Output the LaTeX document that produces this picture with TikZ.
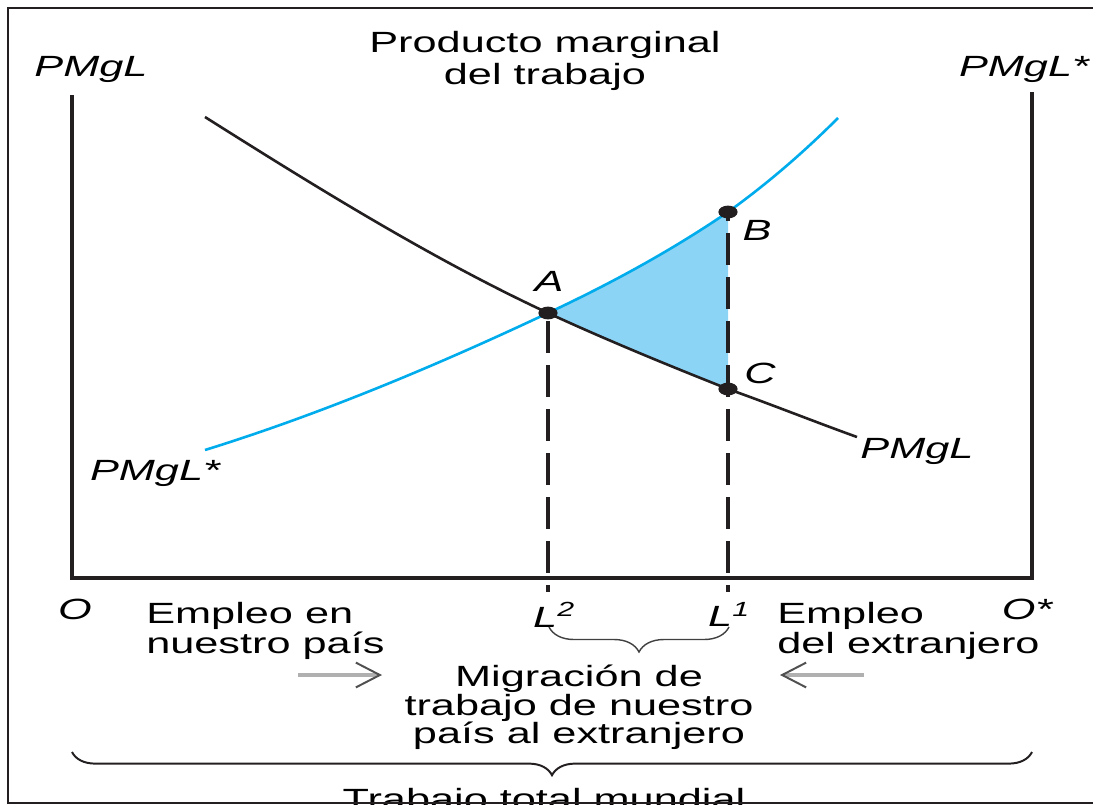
\documentclass[tikz,border=0pt]{standalone}
\usepackage{fontspec}
\setmainfont{Liberation Sans}[FakeStretch=1.48]
\usetikzlibrary{arrows.meta, decorations.pathreplacing, positioning}

\definecolor{tinta}{RGB}{35,31,32}
\definecolor{cian}{RGB}{0,172,236}
\definecolor{celeste}{RGB}{140,212,246}
\definecolor{grisclaro}{RGB}{176,176,176}
\definecolor{grisosc}{RGB}{80,80,80}

\tikzset{
  txt/.style={inner sep=0pt, font=\fontsize{20.8}{21}\selectfont},
  itl/.style={inner sep=0pt, font=\fontsize{20.8}{21}\selectfont\itshape},
  eje/.style={draw=tinta, line width=0.11cm},
  curva/.style={line width=0.065cm},
  guia/.style={draw=tinta, line width=0.115cm, dash pattern=on 0.8cm off 0.3cm},
  llave/.style={decorate, decoration={brace, mirror, amplitude=#1}},
  flecha/.style={draw=grisclaro, line width=0.11cm,
    -{Straight Barb[length=0.6cm, width=0.62cm, line width=1.4pt, color=grisosc]}}
}

\begin{document}
\begin{tikzpicture}[x=0.025cm, y=-0.025cm]
\useasboundingbox (0,0) rectangle (1093,804);
\clip (0,0) rectangle (1093,804);

% marco
\draw[tinta, line width=0.05cm] (8,804) -- (8,8) -- (1093,8);

% puntos de la figura
\coordinate (A) at (548,313);
\coordinate (B) at (728,212);
\coordinate (C) at (728,389);
\coordinate (L2b) at (548,592);
\coordinate (L1b) at (728,592);

% area de ganancia
\fill[celeste] (A) .. controls (608,284.8) and (668,252.8) .. (B) -- (C)
  .. controls (668,365.2) and (608,340.6) .. (A) -- cycle;

% ejes
\draw[eje] (72,95) -- (72,578);
\draw[eje] (1032,92) -- (1032,578);
\draw[tinta, line width=0.08cm] (70,578) -- (1034,578);

% curvas
\draw[curva, tinta] (205,117) .. controls (319,189) and (434,260) .. (A)
  .. controls (608,340.6) and (668,365.2) .. (C)
  .. controls (771,404.3) and (814,421.5) .. (857,437);
\draw[curva, cian] (205,450) .. controls (319,414.6) and (434,366.7) .. (A)
  .. controls (608,284.8) and (668,252.8) .. (B)
  .. controls (764.7,185.6) and (801.3,154.7) .. (838,118);

% lineas discontinuas
\draw[guia, dash phase=0.9cm] (A) -- (L2b);
\draw[guia, dash phase=0.575cm] (B) -- (L1b);

\foreach \p in {A,B,C}
  \fill[tinta] (\p) ellipse [x radius=0.24cm, y radius=0.16cm];

% textos
\node[txt, anchor=north, align=center, font=\fontsize{20.8}{22.5}\selectfont] (titulo) at (545,31) {Producto marginal\\del trabajo};
\node[itl, anchor=north] (pmglH) at (91,56) {PMgL};
\node[itl, anchor=north] (pmglF) at (1024,56) {PMgL*};
\node[itl, anchor=north] (pmglFb) at (155,460) {PMgL*};
\node[itl, anchor=north] (pmglHb) at (917,438) {PMgL};
\node[itl, anchor=north] (labA) at (549,271) {A};
\node[itl, anchor=north] (labB) at (757,220) {B};
\node[itl, anchor=north] (labC) at (760,363) {C};

\node[itl, anchor=north] (origen) at (75,599) {O};
\node[itl, anchor=north] (labL2) at (554,602) {L\textsuperscript{2}};
\node[itl, anchor=north] (labL1) at (729,602) {L\textsuperscript{1}};
\node[itl, anchor=north] (origenF) at (1027,599) {O*};
\node[txt, anchor=north west, align=left] (empH) at (146,602) {Empleo en\\nuestro país};
\node[txt, anchor=north west, align=left] (empF) at (777,602) {Empleo\\del extranjero};
\node[txt, anchor=north, align=center, font=\fontsize{20.8}{20.3}\selectfont] (migr) at (579,665) {Migración de\\trabajo de nuestro\\país al extranjero};
\node[txt, anchor=north] (total) at (544,788) {Trabajo total mundial};

% flechas
\coordinate (fH0) at (298,675);
\coordinate (fH1) at (382,675);
\coordinate (fF0) at (864,675);
\coordinate (fF1) at (780,675);
\draw[flecha] (fH0) -- (fH1);
\draw[flecha] (fF0) -- (fF1);

% llaves
\coordinate (llI) at (549,627);
\coordinate (llD) at (729,627);
\coordinate (tI) at (72,752);
\coordinate (tD) at (1032,752);
\draw[llave=0.625cm, draw=black!75, line width=1pt] (llI) -- (llD);
\draw[llave=0.58cm, draw=tinta, line width=1.4pt] (tI) -- (tD);

% marco inferior sobre el texto
\draw[tinta, line width=0.04cm] (8,803) -- (1093,803);
\end{tikzpicture}
\end{document}
